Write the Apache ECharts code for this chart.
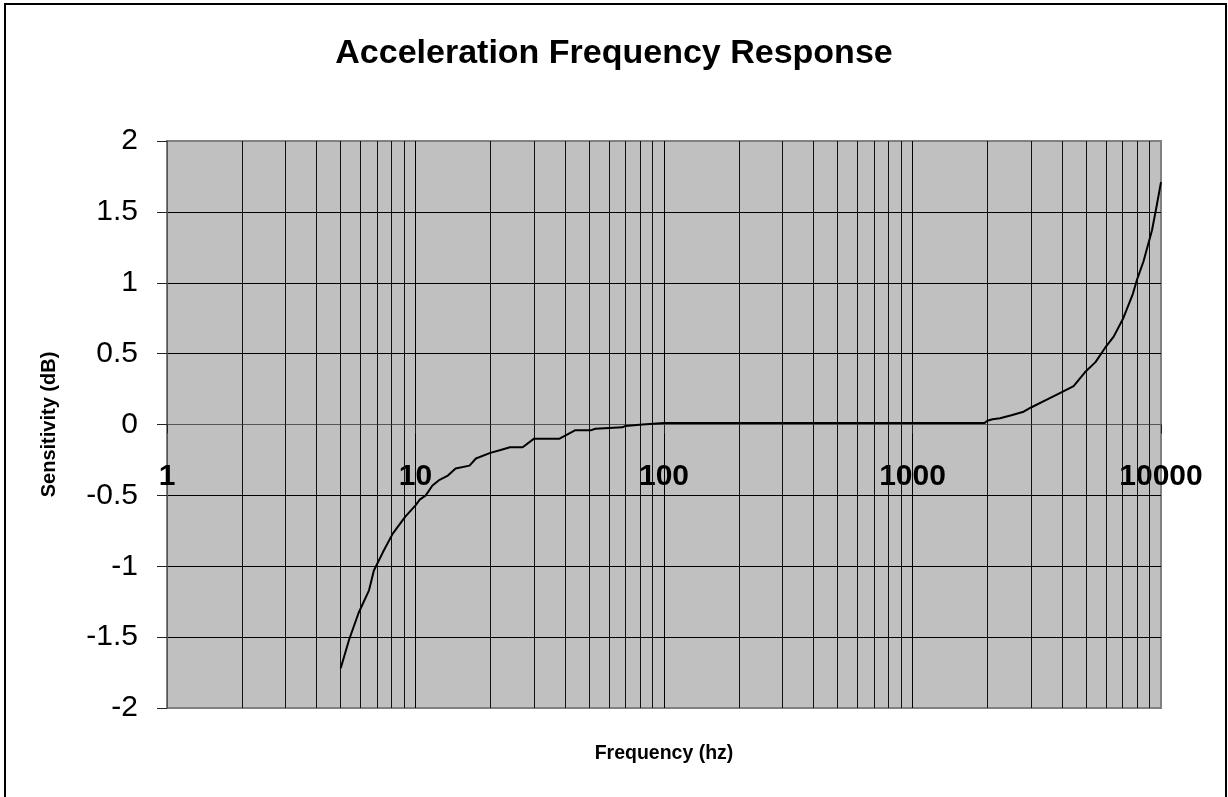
<!DOCTYPE html>
<html>
<head>
<meta charset="utf-8">
<script src="https://cdn.jsdelivr.net/npm/echarts@6/dist/echarts.min.js"></script>
<style>
html,body{margin:0;padding:0;background:#fff;}
#chart{width:1228px;height:797px;}
</style>
</head>
<body>
<div id="chart"></div>
<script>
// Frequency (Hz) and sensitivity (dB)
const freq = [5, 5.4, 5.9, 6.5, 6.8, 7.4, 8.1, 9.1, 10, 10.4, 11, 11.7, 12.5, 13.5, 14.5, 16.5, 17.5, 20, 22, 24, 27, 30, 38, 44, 51, 53, 68, 70, 82, 100, 200, 500, 1000, 1950, 2000, 2100, 2250, 2500, 2800, 3000, 3470, 3900, 4450, 4950, 5450, 5950, 6450, 7050, 7700, 8000, 8500, 9200, 9600, 10000];
const sens = [-1.72, -1.52, -1.33, -1.17, -1.03, -0.90, -0.77, -0.65, -0.57, -0.53, -0.50, -0.43, -0.39, -0.36, -0.31, -0.29, -0.24, -0.20, -0.18, -0.16, -0.16, -0.10, -0.10, -0.04, -0.04, -0.03, -0.02, -0.01, 0, 0.01, 0.01, 0.01, 0.01, 0.01, 0.027, 0.037, 0.044, 0.065, 0.09, 0.12, 0.175, 0.22, 0.27, 0.37, 0.44, 0.54, 0.62, 0.75, 0.92, 1.02, 1.15, 1.37, 1.54, 1.71];
// Minor (2..9 per decade) gridline positions
const minorTicks = [2,3,4,5,6,7,8,9,20,30,40,50,60,70,80,90,200,300,400,500,600,700,800,900,2000,3000,4000,5000,6000,7000,8000,9000];

const titleText = 'Acceleration Frequency Response';
const xName = 'Frequency (hz)';
const yName = 'Sensitivity (dB)';

const FONT = '"Liberation Sans", Arial, sans-serif';
const data = freq.map((f, i) => [f, sens[i]]);

const chart = echarts.init(document.getElementById('chart'), null, {renderer: 'canvas'});
chart.setOption({
  animation: false,
  backgroundColor: '#fff',
  title: {
    text: titleText,
    left: 'center',
    top: 32,
    textStyle: {fontFamily: FONT, fontSize: 34, fontWeight: 'bold', color: '#000'}
  },
  graphic: [{
    type: 'rect',
    silent: true,
    shape: {x: 5, y: 4, width: 1221, height: 810},
    style: {fill: 'none', stroke: '#000', lineWidth: 2}
  }],
  grid: {
    left: 167, top: 141, right: 67, bottom: 89,
    containLabel: false,
    outerBoundsMode: 'none',
    show: true,
    backgroundColor: '#c0c0c0',
    borderColor: '#808080',
    borderWidth: 2
  },
  xAxis: {
    type: 'log',
    logBase: 10,
    min: 1,
    max: 10000,
    interval: 1,
    position: 'bottom',
    offset: -283.5,
    name: xName,
    nameLocation: 'middle',
    nameGap: 319,
    nameTextStyle: {fontFamily: FONT, fontSize: 19.5, fontWeight: 'bold', color: '#000'},
    axisLine: {show: true, onZero: false, lineStyle: {color: '#555', width: 1}},
    axisTick: {show: true, inside: false, length: 9, lineStyle: {color: '#222', width: 1}},
    axisLabel: {
      margin: 37,
      fontFamily: FONT, fontSize: 30, fontWeight: 'bold', color: '#000',
      showMinLabel: true, showMaxLabel: true,
      formatter: v => String(Math.round(v))
    },
    splitLine: {show: true, lineStyle: {color: ['#808080', '#000', '#000', '#000', '#808080'], width: 1}},
    minorTick: {show: false}
  },
  yAxis: {
    type: 'value',
    min: -2,
    max: 2,
    interval: 0.5,
    name: yName,
    nameLocation: 'middle',
    nameGap: 108,
    nameTextStyle: {fontFamily: FONT, fontSize: 20, fontWeight: 'bold', color: '#000'},
    axisLine: {show: true, onZero: false, lineStyle: {color: '#555', width: 1}},
    axisTick: {show: true, inside: false, length: 10, lineStyle: {color: '#222', width: 1}},
    axisLabel: {margin: 29, padding: [6, 0, 0, 0], fontFamily: FONT, fontSize: 30, color: '#000'},
    splitLine: {show: true, lineStyle: {color: ['#808080', '#000', '#000', '#000', '#000', '#000', '#000', '#000', '#808080'], width: 1}}
  },
  series: [{
    type: 'line',
    data: data,
    showSymbol: false,
    symbol: 'none',
    z: 1,
    lineStyle: {opacity: 0},
    silent: true,
    markLine: {
      silent: true,
      symbol: ['none', 'none'],
      label: {show: false},
      animation: false,
      lineStyle: {color: '#111', width: 1, type: 'solid'},
      data: minorTicks.map(v => ({xAxis: v}))
    }
  }, {
    type: 'line',
    data: data,
    showSymbol: false,
    symbol: 'none',
    z: 5,
    lineStyle: {color: '#000', width: 2}
  }]
});
</script>
</body>
</html>
